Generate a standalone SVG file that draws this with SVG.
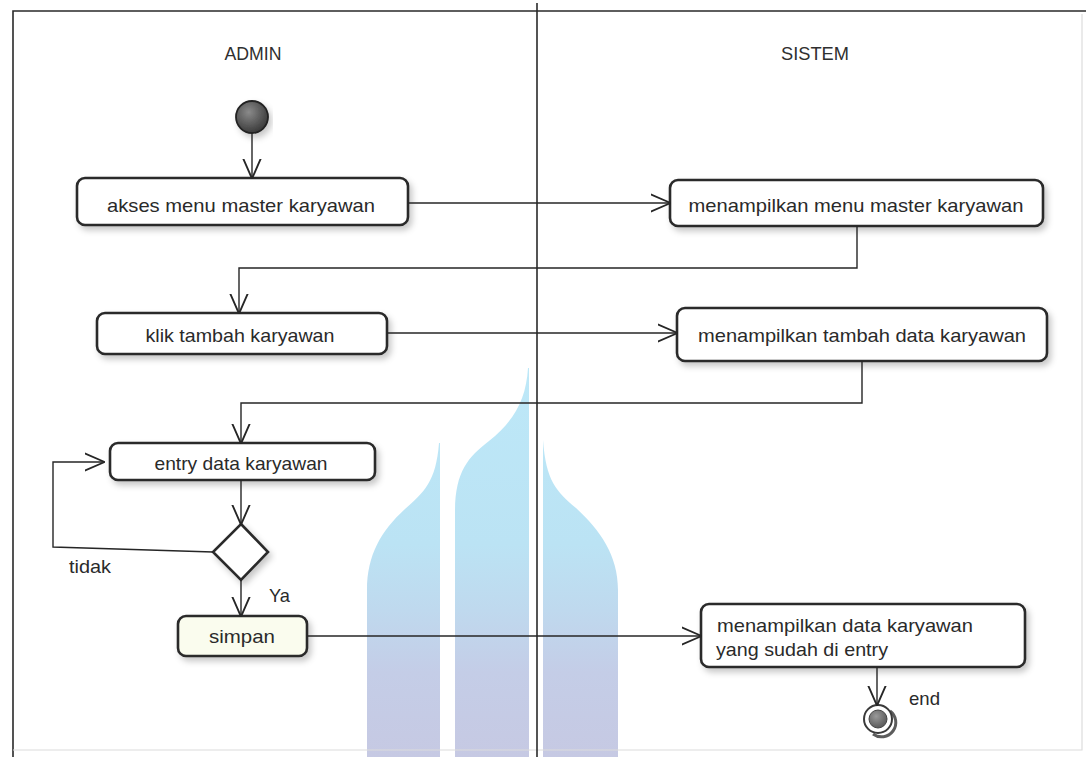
<svg xmlns="http://www.w3.org/2000/svg" width="1086" height="757" viewBox="0 0 1086 757">
<style>
.node rect{fill:#fff;stroke:#2b2b2b;stroke-width:2.6;filter:url(#sh)}
.lbl{font-family:"Liberation Sans",Arial,sans-serif;font-size:19px;fill:#2a2a2a}
.lane{font-family:"Liberation Sans",Arial,sans-serif;font-size:18px;fill:#2f2f2f;text-anchor:middle}
.con path{fill:none;stroke:#262626;stroke-width:1.4;marker-end:url(#arr)}
.frame{stroke:#2a2a2a;stroke-width:1.6;fill:none}
</style>
<defs>
<filter id="sh" x="-10%" y="-30%" width="125%" height="170%">
<feDropShadow dx="3" dy="4" stdDeviation="3" flood-color="#000" flood-opacity="0.22"/>
</filter>
<marker id="arr" markerUnits="userSpaceOnUse" markerWidth="20" markerHeight="20" viewBox="0 0 16 16" refX="15.5" refY="8" orient="auto">
<path d="M0,1 L16,8 L0,15" fill="none" stroke="#262626" stroke-width="1.5"/>
</marker>
<linearGradient id="wm" gradientUnits="userSpaceOnUse" x1="0" y1="370" x2="0" y2="757">
<stop offset="0" stop-color="#bde8f8"/>
<stop offset="0.45" stop-color="#bbe3f4"/>
<stop offset="0.62" stop-color="#bfd9ee"/>
<stop offset="0.78" stop-color="#c4cde7"/>
<stop offset="1" stop-color="#c6c9e3"/>
</linearGradient>
<radialGradient id="startg" cx="0.4" cy="0.35" r="0.7">
<stop offset="0" stop-color="#8a8a8a"/>
<stop offset="1" stop-color="#353535"/>
</radialGradient>
<radialGradient id="endg" cx="0.4" cy="0.35" r="0.7">
<stop offset="0" stop-color="#9a9a9a"/>
<stop offset="1" stop-color="#555"/>
</radialGradient>
</defs>
<rect width="1086" height="757" fill="#fff"/>
<g id="watermark" fill="url(#wm)">
<path d="M439,443 C436,482 424,492 405,509 C381,531 367,555 367,590 L367,757 L440,757 L440,443 Z"/>
<path d="M455,757 L455,512 C455,472 468,457 489,441 C514,421 526,400 528,368 L529,368 L529,757 Z"/>
<path d="M543,757 L543,440 C546,481 556,491 576,508 C600,530 618,555 618,590 L618,757 Z"/>
</g>
<g id="frame">
<path class="frame" d="M13,757 L13,11 L1086,11"/>
<path d="M13,750 L1082,750 L1082,14" fill="none" stroke="#dcdcdc" stroke-width="1.2"/>
<path class="frame" d="M537,3 L537,757"/>
<text class="lane" x="253" y="60" textLength="57" lengthAdjust="spacingAndGlyphs">ADMIN</text>
<text class="lane" x="815" y="60" textLength="68" lengthAdjust="spacingAndGlyphs">SISTEM</text>
</g>
<g id="start">
<circle cx="252" cy="117" r="16" fill="url(#startg)" stroke="#222" stroke-width="1.8" filter="url(#sh)"/>
</g>
<g id="n1" class="node">
<rect x="77" y="178" width="331" height="47" rx="8"/>
<text class="lbl" x="241" y="212" text-anchor="middle" textLength="268" lengthAdjust="spacingAndGlyphs">akses menu master karyawan</text>
</g>
<g id="n2" class="node">
<rect x="670" y="180" width="373" height="46" rx="8"/>
<text class="lbl" x="856" y="212" text-anchor="middle" textLength="335" lengthAdjust="spacingAndGlyphs">menampilkan menu master karyawan</text>
</g>
<g id="n3" class="node">
<rect x="97" y="313" width="290" height="41" rx="8"/>
<text class="lbl" x="240" y="342" text-anchor="middle" textLength="189" lengthAdjust="spacingAndGlyphs">klik tambah karyawan</text>
</g>
<g id="n4" class="node">
<rect x="677" y="308" width="370" height="53" rx="8"/>
<text class="lbl" x="862" y="342" text-anchor="middle" textLength="328" lengthAdjust="spacingAndGlyphs">menampilkan tambah data karyawan</text>
</g>
<g id="n5" class="node">
<rect x="110" y="443" width="265" height="37" rx="8"/>
<text class="lbl" x="241" y="470" text-anchor="middle" textLength="173" lengthAdjust="spacingAndGlyphs">entry data karyawan</text>
</g>
<g id="decision">
<path d="M241,524 L268,552 L241,580 L213,552 Z" fill="#fff" stroke="#2b2b2b" stroke-width="2.6" filter="url(#sh)"/>
</g>
<g id="n6" class="node">
<rect x="178" y="616" width="129" height="40" rx="8" style="fill:#fafcee"/>
<text class="lbl" x="242" y="643" text-anchor="middle" textLength="66" lengthAdjust="spacingAndGlyphs">simpan</text>
</g>
<g id="n7" class="node">
<rect x="701" y="604" width="324" height="63" rx="8"/>
<text class="lbl" x="717" y="632" textLength="256" lengthAdjust="spacingAndGlyphs">menampilkan data karyawan</text>
<text class="lbl" x="716" y="656" textLength="172" lengthAdjust="spacingAndGlyphs">yang sudah di entry</text>
</g>
<g id="end">
<path d="M890,711 A14,14 0 0 1 873,734" fill="none" stroke="#333" stroke-width="3" opacity="0.8"/>
<circle cx="878" cy="719" r="14" fill="#fff" stroke="#3a3a3a" stroke-width="2"/>
<circle cx="878" cy="719" r="9" fill="url(#endg)" stroke="#444" stroke-width="1"/>
<text class="lbl" x="909" y="705" textLength="31" lengthAdjust="spacingAndGlyphs">end</text>
</g>
<g id="connectors" class="con">
<path d="M252,133 L252,178"/>
<path d="M408,203 L670,203"/>
<path d="M857,226 L857,268 L239,268 L239,313"/>
<path d="M387,333 L677,333"/>
<path d="M862,361 L862,403 L241,403 L241,443"/>
<path d="M241,480 L241,524"/>
<path d="M213,552 L53,547 L53,462 L104,462"/>
<path d="M241,580 L241,616"/>
<path d="M307,636 L701,636"/>
<path d="M877,667 L877,705"/>
</g>
<g id="guards">
<text class="lbl" x="69" y="573" textLength="42" lengthAdjust="spacingAndGlyphs">tidak</text>
<text class="lbl" x="269" y="602" textLength="21" lengthAdjust="spacingAndGlyphs">Ya</text>
</g>
</svg>
